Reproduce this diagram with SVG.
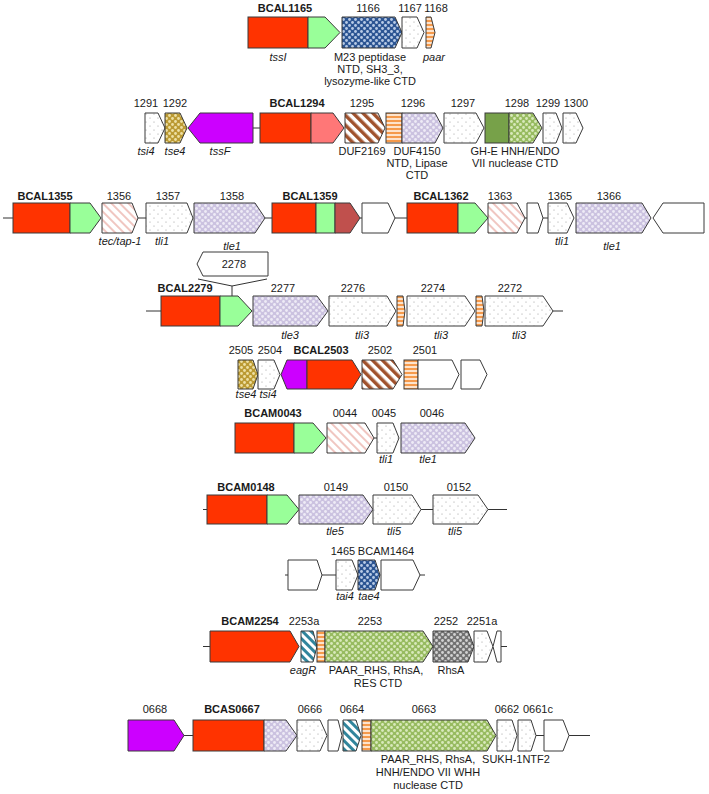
<svg xmlns="http://www.w3.org/2000/svg" width="709" height="794" viewBox="0 0 709 794">
<defs>
<pattern id="pDots" width="8" height="8" patternUnits="userSpaceOnUse"><rect width="8" height="8" fill="#fff"/><circle cx="2" cy="2" r="0.6" fill="#9a9a9a"/><circle cx="6" cy="6" r="0.6" fill="#9a9a9a"/></pattern>
<pattern id="pLav" width="6" height="6" patternUnits="userSpaceOnUse"><rect width="6" height="6" fill="#cbc2e0"/><circle cx="1.5" cy="1.5" r="1.4" fill="#eeebf6"/><circle cx="4.5" cy="4.5" r="1.4" fill="#eeebf6"/></pattern>
<pattern id="pGrn" width="6" height="6" patternUnits="userSpaceOnUse"><rect width="6" height="6" fill="#97bb60"/><circle cx="1.5" cy="1.5" r="1.4" fill="#d8e9bb"/><circle cx="4.5" cy="4.5" r="1.4" fill="#d8e9bb"/></pattern>
<pattern id="pBlu" width="6" height="6" patternUnits="userSpaceOnUse"><rect width="6" height="6" fill="#2c5593"/><circle cx="1.5" cy="1.5" r="1.4" fill="#b8cbe6"/><circle cx="4.5" cy="4.5" r="1.4" fill="#b8cbe6"/></pattern>
<pattern id="pGold" width="6" height="6" patternUnits="userSpaceOnUse"><rect width="6" height="6" fill="#bb9a33"/><circle cx="1.5" cy="1.5" r="1.4" fill="#eee0a4"/><circle cx="4.5" cy="4.5" r="1.4" fill="#eee0a4"/></pattern>
<pattern id="pGry" width="6" height="6" patternUnits="userSpaceOnUse"><rect width="6" height="6" fill="#727272"/><circle cx="1.5" cy="1.5" r="1.4" fill="#d2d2d2"/><circle cx="4.5" cy="4.5" r="1.4" fill="#d2d2d2"/></pattern>
<pattern id="pBrown" width="7" height="7" patternUnits="userSpaceOnUse" patternTransform="rotate(-45)"><rect width="7" height="7" fill="#fff"/><rect width="3.5" height="7" fill="#a0522d"/></pattern>
<pattern id="pPink" width="6" height="6" patternUnits="userSpaceOnUse" patternTransform="rotate(-45)"><rect width="6" height="6" fill="#fff"/><rect width="2" height="6" fill="#f0c6c1"/></pattern>
<pattern id="pTeal" width="6" height="6" patternUnits="userSpaceOnUse" patternTransform="rotate(-45)"><rect width="6" height="6" fill="#fff"/><rect width="3" height="6" fill="#31859c"/></pattern>
<pattern id="pOrg" width="4" height="4" patternUnits="userSpaceOnUse"><rect width="4" height="4" fill="#fde3cc"/><rect width="4" height="2" fill="#f59a4c"/></pattern>
</defs>
<style>
.g{stroke:#3a3a3a;stroke-width:1}
.red{fill:#ff3300}.lg{fill:#99ff99}.sal{fill:#ff7777}.pur{fill:#cc00ff}.dr{fill:#c0504d}.ol{fill:#77a149}.wh{fill:#fff}
.dots{fill:url(#pDots)}.lav{fill:url(#pLav)}.grn{fill:url(#pGrn)}.blu{fill:url(#pBlu)}.gold{fill:url(#pGold)}.gry{fill:url(#pGry)}
.brn{fill:url(#pBrown)}.pnk{fill:url(#pPink)}.tea{fill:url(#pTeal)}.org{fill:url(#pOrg)}
.ln{stroke:#333;stroke-width:1;fill:none}
text{font-family:"Liberation Sans",Arial,sans-serif;font-size:11px;fill:#1a1a1a;text-anchor:middle}
.b{font-weight:bold}.i{font-style:italic}
</style>
<rect width="709" height="794" fill="#fff"/>
<g id="connectors">
<line class="ln" x1="253" y1="128" x2="260" y2="128"/>
<line class="ln" x1="3" y1="218" x2="13" y2="218"/>
<line class="ln" x1="138" y1="218" x2="146" y2="218"/>
<line class="ln" x1="265" y1="218" x2="272" y2="218"/>
<line class="ln" x1="360" y1="218" x2="362" y2="218"/>
<line class="ln" x1="395" y1="218" x2="407" y2="218"/>
<line class="ln" x1="525" y1="218" x2="527" y2="218"/>
<line class="ln" x1="543" y1="218" x2="548" y2="218"/>
<polyline class="ln" points="198,279 232,286 267,279"/>
<line class="ln" x1="232" y1="286" x2="232" y2="296"/>
<line class="ln" x1="146" y1="311" x2="161" y2="311"/>
<line class="ln" x1="553" y1="311" x2="563" y2="311"/>
<line class="ln" x1="374" y1="438" x2="377" y2="438"/>
<line class="ln" x1="203" y1="509.5" x2="207" y2="509.5"/>
<line class="ln" x1="421" y1="509.5" x2="433" y2="509.5"/>
<line class="ln" x1="488" y1="509.5" x2="507" y2="509.5"/>
<line class="ln" x1="285" y1="575" x2="288" y2="575"/>
<line class="ln" x1="322" y1="575" x2="336" y2="575"/>
<line class="ln" x1="420" y1="575" x2="425" y2="575"/>
<line class="ln" x1="203" y1="646.5" x2="210" y2="646.5"/>
<line class="ln" x1="501" y1="646.5" x2="507" y2="646.5"/>
<line class="ln" x1="184" y1="735.5" x2="193" y2="735.5"/>
<line class="ln" x1="536" y1="735.5" x2="544" y2="735.5"/>
<line class="ln" x1="569" y1="735.5" x2="590" y2="735.5"/>
</g>
<!-- Row 1 -->
<g id="BCAL1165"><rect class="g red" x="248" y="17" width="60" height="31"/><polygon class="g lg" points="308,17 325,17 340,32.5 325,48 308,48"/><text class="b" x="285" y="12">BCAL1165</text><text class="i" x="278" y="61">tssI</text></g>
<g id="g1166"><polygon class="g blu" points="342,17 395,17 402,32.5 395,48 342,48"/><text x="368" y="12">1166</text><text x="370" y="61">M23 peptidase</text><text x="370" y="73">NTD, SH3_3,</text><text x="370" y="85">lysozyme-like CTD</text></g>
<g id="g1167"><polygon class="g dots" points="402,17 417,17 424,32.5 417,48 402,48"/><text x="410" y="12">1167</text></g>
<g id="g1168"><polygon class="g org" points="426,17 431,17 435,32.5 431,48 426,48"/><text x="436" y="12">1168</text><text class="i" x="434" y="61">paar</text></g>
<!-- Row 2 -->
<g id="g1291"><polygon class="g dots" points="145,113 158,113 165,128 158,143 145,143"/><text x="146" y="107">1291</text><text class="i" x="146" y="155">tsi4</text></g>
<g id="g1292"><polygon class="g gold" points="165,113 180,113 187,128 180,143 165,143"/><text x="175" y="107">1292</text><text class="i" x="175" y="155">tse4</text></g>
<g id="g1293"><polygon class="g pur" points="188,128 200,113 253,113 253,143 200,143"/><text class="i" x="220" y="155">tssF</text></g>
<g id="BCAL1294"><rect class="g red" x="260" y="113" width="51" height="30"/><polygon class="g sal" points="311,113 333,113 344,128 333,143 311,143"/><text class="b" x="297" y="107">BCAL1294</text></g>
<g id="g1295"><polygon class="g brn" points="345,113 378,113 385,128 378,143 345,143"/><text x="362" y="107">1295</text><text x="362" y="155">DUF2169</text></g>
<g id="g1296"><rect class="g org" x="386" y="113" width="16" height="30"/><polygon class="g lav" points="402,113 435,113 443,128 435,143 402,143"/><text x="413" y="107">1296</text><text x="417" y="155">DUF4150</text><text x="417" y="167">NTD, Lipase</text><text x="417" y="179">CTD</text></g>
<g id="g1297"><polygon class="g dots" points="444,113 476,113 484,128 476,143 444,143"/><text x="463" y="107">1297</text></g>
<g id="g1298"><rect class="g ol" x="485" y="113" width="24" height="30"/><polygon class="g grn" points="509,113 533,113 542,128 533,143 509,143"/><text x="517" y="107">1298</text><text x="515" y="155">GH-E HNH/ENDO</text><text x="515" y="167">VII nuclease CTD</text></g>
<g id="g1299"><polygon class="g dots" points="543,113 556,113 562,128 556,143 543,143"/><text x="548" y="107">1299</text></g>
<g id="g1300"><polygon class="g dots" points="563,113 576,113 583,128 576,143 563,143"/><text x="576" y="107">1300</text></g>
<!-- Row 3 -->
<g id="BCAL1355"><rect class="g red" x="13" y="203" width="57" height="30"/><polygon class="g lg" points="70,203 90,203 101,218 90,233 70,233"/><text class="b" x="45" y="200">BCAL1355</text></g>
<g id="g1356"><polygon class="g pnk" points="102,203 132,203 138,218 132,233 102,233"/><text x="119" y="200">1356</text><text class="i" x="120" y="245">tec/tap-1</text></g>
<g id="g1357"><polygon class="g dots" points="146,203 187,203 193,218 187,233 146,233"/><text x="168" y="200">1357</text><text class="i" x="162" y="245">tli1</text></g>
<g id="g1358"><polygon class="g lav" points="194,203 255,203 265,218 255,233 194,233"/><text x="232" y="200">1358</text><text class="i" x="232" y="250">tle1</text></g>
<g id="BCAL1359"><rect class="g red" x="272" y="203" width="44" height="30"/><rect class="g lg" x="316" y="203" width="19" height="30"/><polygon class="g dr" points="335,203 350,203 360,218 350,233 335,233"/><text class="b" x="310" y="200">BCAL1359</text></g>
<g id="g1360"><polygon class="g wh" points="362,203 388,203 395,218 388,233 362,233"/></g>
<g id="BCAL1362"><rect class="g red" x="407" y="203" width="51" height="30"/><polygon class="g lg" points="458,203 475,203 488,218 475,233 458,233"/><text class="b" x="441" y="200">BCAL1362</text></g>
<g id="g1363"><polygon class="g pnk" points="488,203 517,203 525,218 517,233 488,233"/><text x="500" y="200">1363</text></g>
<g id="g1364"><polygon class="g wh" points="527,203 538,203 543,218 538,233 527,233"/></g>
<g id="g1365"><polygon class="g dots" points="548,203 567,203 574,218 567,233 548,233"/><text x="560" y="200">1365</text><text class="i" x="562" y="245">tli1</text></g>
<g id="g1366"><polygon class="g lav" points="576,203 642,203 651,218 642,233 576,233"/><text x="609" y="200">1366</text><text class="i" x="612" y="250">tle1</text></g>
<g id="g1367"><polygon class="g wh" points="653,218 663,203 704,203 704,233 663,233"/></g>
<!-- Row 4 -->
<g id="g2278"><polygon class="g wh" points="197,264 203,252 268,252 268,276 203,276"/><text x="234" y="268">2278</text></g>
<g id="BCAL2279"><rect class="g red" x="161" y="296" width="59" height="30"/><polygon class="g lg" points="220,296 238,296 252,311 238,326 220,326"/><text class="b" x="185" y="292">BCAL2279</text></g>
<g id="g2277"><polygon class="g lav" points="253,296 317,296 328,311 317,326 253,326"/><text x="283" y="292">2277</text><text class="i" x="290" y="339">tle3</text></g>
<g id="g2276"><polygon class="g dots" points="329,296 387,296 396,311 387,326 329,326"/><text x="353" y="292">2276</text><text class="i" x="362" y="339">tli3</text></g>
<g id="g2275"><polygon class="g org" points="397,296 403,296 405,311 403,326 397,326"/></g>
<g id="g2274"><polygon class="g dots" points="407,296 465,296 475,311 465,326 407,326"/><text x="433" y="292">2274</text><text class="i" x="441" y="339">tli3</text></g>
<g id="g2273"><polygon class="g org" points="476,296 482,296 484,311 482,326 476,326"/></g>
<g id="g2272"><polygon class="g dots" points="485,296 543,296 553,311 543,326 485,326"/><text x="510" y="292">2272</text><text class="i" x="519" y="339">tli3</text></g>
<!-- Row 5 -->
<g id="g2505"><polygon class="g gold" points="238,360 253,360 258,374.5 253,389 238,389"/><text x="241" y="354">2505</text><text class="i" x="246" y="398">tse4</text></g>
<g id="g2504"><polygon class="g dots" points="258,360 274,360 280,374.5 274,389 258,389"/><text x="270" y="354">2504</text><text class="i" x="268" y="398">tsi4</text></g>
<g id="BCAL2503"><polygon class="g pur" points="281,374.5 287,360 307,360 307,389 287,389"/><polygon class="g red" points="307,360 352,360 361,374.5 352,389 307,389"/><text class="b" x="321" y="354">BCAL2503</text></g>
<g id="g2502"><polygon class="g brn" points="362,360 393,360 402,374.5 393,389 362,389"/><text x="380" y="354">2502</text></g>
<g id="g2501"><rect class="g org" x="404" y="360" width="14" height="29"/><polygon class="g wh" points="418,360 452,360 459,374.5 452,389 418,389"/><text x="425" y="354">2501</text></g>
<g id="g2500"><polygon class="g wh" points="461,360 480,360 487,374.5 480,389 461,389"/></g>
<!-- Row 6 -->
<g id="BCAM0043"><rect class="g red" x="235" y="423" width="59" height="30"/><polygon class="g lg" points="294,423 313,423 326,438 313,453 294,453"/><text class="b" x="273" y="417">BCAM0043</text></g>
<g id="g0044"><polygon class="g pnk" points="327,423 365,423 374,438 365,453 327,453"/><text x="345" y="417">0044</text></g>
<g id="g0045"><polygon class="g dots" points="377,423 393,423 399,438 393,453 377,453"/><text x="384" y="417">0045</text><text class="i" x="386" y="463">tli1</text></g>
<g id="g0046"><polygon class="g lav" points="401,423 465,423 475,438 465,453 401,453"/><text x="432" y="417">0046</text><text class="i" x="428" y="463">tle1</text></g>
<!-- Row 7 -->
<g id="BCAM0148"><rect class="g red" x="207" y="495" width="60" height="29"/><polygon class="g lg" points="267,495 287,495 299,509.5 287,524 267,524"/><text class="b" x="246" y="491">BCAM0148</text></g>
<g id="g0149"><polygon class="g lav" points="299,495 363,495 373,509.5 363,524 299,524"/><text x="336" y="491">0149</text><text class="i" x="335" y="535">tle5</text></g>
<g id="g0150"><polygon class="g dots" points="373,495 412,495 421,509.5 412,524 373,524"/><text x="396" y="491">0150</text><text class="i" x="394" y="535">tli5</text></g>
<g id="g0152"><polygon class="g dots" points="433,495 478,495 488,509.5 478,524 433,524"/><text x="459" y="491">0152</text><text class="i" x="455" y="535">tli5</text></g>
<!-- Row 8 -->
<g id="g1466"><polygon class="g wh" points="288,560 317,560 322,575 317,590 288,590"/></g>
<g id="g1465"><polygon class="g dots" points="336,560 352,560 358,575 352,590 336,590"/><text x="343" y="555">1465</text><text class="i" x="345" y="600">tai4</text></g>
<g id="BCAM1464"><polygon class="g blu" points="358,560 375,560 380,575 375,590 358,590"/><text x="386" y="555">BCAM1464</text><text class="i" x="369" y="600">tae4</text></g>
<g id="g1463"><polygon class="g wh" points="381,560 413,560 420,575 413,590 381,590"/></g>
<!-- Row 9 -->
<g id="BCAM2254"><polygon class="g red" points="210,631 290,631 299,646.5 290,662 210,662"/><text class="b" x="250" y="625">BCAM2254</text></g>
<g id="g2253a"><polygon class="g tea" points="301,631 313,631 317,646.5 313,662 301,662"/><text x="304" y="625">2253a</text><text class="i" x="303" y="674">eagR</text></g>
<g id="g2253"><rect class="g org" x="317" y="631" width="8" height="31"/><polygon class="g grn" points="325,631 423,631 433,646.5 423,662 325,662"/><text x="370" y="625">2253</text><text x="376" y="674">PAAR_RHS, RhsA,</text><text x="378" y="687">RES CTD</text></g>
<g id="g2252"><polygon class="g gry" points="433,631 468,631 474,646.5 468,662 433,662"/><text x="446" y="625">2252</text><text x="451" y="674">RhsA</text></g>
<g id="g2251a"><polygon class="g dots" points="474,631 487,631 493,646.5 487,662 474,662"/><text x="482" y="625">2251a</text></g>
<g id="g2251"><polygon class="g wh" points="493,646.5 497,631 501,631 501,662 497,662"/></g>
<!-- Row 10 -->
<g id="g0668"><polygon class="g pur" points="128,720 174,720 184,735.5 174,751 128,751"/><text x="155" y="713">0668</text></g>
<g id="BCAS0667"><rect class="g red" x="193" y="720" width="71" height="31"/><polygon class="g lav" points="264,720 286,720 297,735.5 286,751 264,751"/><text class="b" x="232" y="713">BCAS0667</text></g>
<g id="g0666"><polygon class="g dots" points="297,720 320,720 327,735.5 320,751 297,751"/><text x="310" y="713">0666</text></g>
<g id="g0665"><polygon class="g wh" points="328,720 338,720 342,735.5 338,751 328,751"/></g>
<g id="g0664"><polygon class="g tea" points="343,720 356,720 361,735.5 356,751 343,751"/><text x="352" y="713">0664</text></g>
<g id="g0663"><rect class="g org" x="362" y="720" width="9" height="31"/><polygon class="g grn" points="371,720 487,720 496,735.5 487,751 371,751"/><text x="424" y="713">0663</text><text x="428" y="763">PAAR_RHS, RhsA,</text><text x="428" y="776">HNH/ENDO VII WHH</text><text x="428" y="789">nuclease CTD</text></g>
<g id="g0662"><polygon class="g dots" points="497,720 512,720 517,735.5 512,751 497,751"/><text x="507" y="713">0662</text><text x="516" y="763">SUKH-1NTF2</text></g>
<g id="g0661c"><polygon class="g dots" points="518,720 531,720 536,735.5 531,751 518,751"/><text x="538" y="713">0661c</text></g>
<g id="g0660"><polygon class="g wh" points="544,720 563,720 569,735.5 563,751 544,751"/></g>
</svg>
